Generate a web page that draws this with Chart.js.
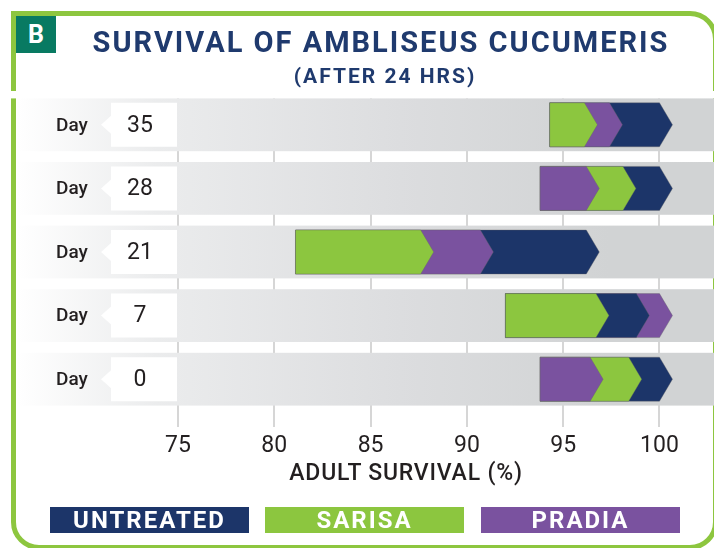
<!DOCTYPE html>
<html>
<head>
<meta charset="utf-8">
<script src="https://cdn.jsdelivr.net/npm/chart.js@4/dist/chart.umd.min.js"></script>
<style>
  body { margin: 0; background: #fff; }
  #page { position: relative; width: 714px; height: 548px; overflow: hidden; font-family: Roboto, sans-serif; }
  #frame { position: absolute; left: 11px; top: 11px; width: 707px; height: 539px; box-sizing: border-box;
           border: 5px solid #8dc63f; border-radius: 0 28px 28px 28px; }
  #badge { position: absolute; left: 16px; top: 16px; width: 40px; height: 37px; background: #087a62; color: #fff;
           font: 700 25px Roboto, sans-serif; line-height: 37px; text-align: center; }
  .title { position: absolute; left: 80px; width: 600px; text-align: center; color: #1f3a6e; font-weight: 700; }
  #t1 { top: 28px; font-size: 29px; line-height: 29px; letter-spacing: 2px; left: 81px; }
  #t2 { top: 66px; font-size: 21px; line-height: 21px; letter-spacing: 2px; left: 85px; }
  #axisTitle { position: absolute; left: 206px; width: 400px; top: 461px; text-align: center; font-size: 23px;
               font-weight: 500; letter-spacing: 0.8px; line-height: 24px; color: #231f20; }
  .legend { position: absolute; top: 507px; width: 199px; height: 26px; color: #fff; font: 700 24px Roboto, sans-serif;
            line-height: 27px; text-align: center; letter-spacing: 2px; }
  canvas { position: absolute; left: 0; top: 0; }
</style>
</head>
<body>
<div id="page">
  <div id="frame"></div>
  <canvas id="chart" width="714" height="548"></canvas>
  <div id="badge">B</div>
  <div class="title" id="t1">SURVIVAL OF AMBLISEUS CUCUMERIS</div>
  <div class="title" id="t2">(AFTER 24 HRS)</div>
  <div id="axisTitle">ADULT SURVIVAL (%)</div>
  <div class="legend" style="left:50px;background:#1c3569">UNTREATED</div>
  <div class="legend" style="left:265px;background:#8cc63f">SARISA</div>
  <div class="legend" style="left:481px;background:#7a529f">PRADIA</div>
</div>
<script>
// rows from top to bottom
const days = ["35", "28", "21", "7", "0"];
const startVals = [94.3, 93.8, 81.1, 92.0, 93.8];
const untreated = [100, 100, 96.2, 98.8, 100];
const sarisa = [96.1, 98.1, 87.6, 96.7, 98.4];
const pradia = [97.4, 96.2, 90.7, 100, 96.4];
const xTicks = [75, 80, 85, 90, 95, 100];

const navy = "#1c3569";
const green = "#8cc63f";
const purple = "#7a529f";

function range(vals) {
    return vals.map((v, i) => [startVals[i], v]);
}

// draws grey bands, day labels and the arrow-shaped bars (shortest on top)
const arrowPlugin = {
    id: "arrows",
    beforeDatasetsDraw(chart) {
        const ctx = chart.ctx;
        const y = chart.scales.y;
        const area = chart.chartArea;
        const slot = y.getPixelForValue(1) - y.getPixelForValue(0);
        const bandH = slot * 0.83;
        const tip = 13;

        ctx.save();
        // hide the bit of grid above the first band
        ctx.fillStyle = "#fff";
        ctx.fillRect(0, area.top - 2, chart.width, y.getPixelForValue(0) - bandH / 2 - area.top + 2);

        const g = ctx.createLinearGradient(17, 0, chart.width, 0);
        g.addColorStop(0, "#ffffff");
        g.addColorStop(0.2, "#ebeced");
        g.addColorStop(0.55, "#dcdddf");
        g.addColorStop(0.85, "#d1d3d4");
        g.addColorStop(1, "#d1d3d4");

        days.forEach((d, i) => {
            const c = y.getPixelForValue(i);
            ctx.fillStyle = g;
            ctx.fillRect(17, c - bandH / 2, chart.width - 17, bandH);

            // white label box with a notch
            ctx.fillStyle = "#fff";
            ctx.beginPath();
            ctx.moveTo(111, c - 22);
            ctx.lineTo(177, c - 22);
            ctx.lineTo(177, c + 22);
            ctx.lineTo(111, c + 22);
            ctx.lineTo(111, c + 9);
            ctx.lineTo(101, c);
            ctx.lineTo(111, c - 9);
            ctx.closePath();
            ctx.fill();

            ctx.fillStyle = "#231f20";
            ctx.textBaseline = "middle";
            ctx.textAlign = "left";
            ctx.font = "500 19px Roboto";
            ctx.fillText("Day", 56, c + 1);
            ctx.textAlign = "center";
            ctx.font = "400 23px Roboto";
            ctx.fillText(d, 140, c + 1);

            const bars = chart.data.datasets.map((ds, k) => ({
                el: chart.getDatasetMeta(k).data[i],
                color: ds.backgroundColor
            }));
            bars.sort((a, b) => b.el.x - a.el.x);
            bars.forEach(b => {
                const el = b.el;
                const h = el.height / 2;
                ctx.beginPath();
                ctx.moveTo(el.base, el.y - h);
                ctx.lineTo(el.x, el.y - h);
                ctx.lineTo(el.x + tip, el.y);
                ctx.lineTo(el.x, el.y + h);
                ctx.lineTo(el.base, el.y + h);
                ctx.closePath();
                ctx.fillStyle = b.color;
                ctx.fill();
                ctx.strokeStyle = "rgba(100,100,100,0.35)";
                ctx.lineWidth = 1;
                ctx.stroke();
            });
        });
        ctx.restore();
        return false;
    }
};

new Chart(document.getElementById("chart"), {
    type: "bar",
    data: {
        labels: days,
        datasets: [
            { label: "UNTREATED", data: range(untreated), backgroundColor: navy },
            { label: "SARISA", data: range(sarisa), backgroundColor: green },
            { label: "PRADIA", data: range(pradia), backgroundColor: purple }
        ]
    },
    options: {
        indexAxis: "y",
        responsive: false,
        animation: false,
        layout: { padding: { top: 93, left: 178, right: 0, bottom: 0 } },
        datasets: { bar: { grouped: false, barThickness: 44 } },
        plugins: { legend: { display: false }, tooltip: { enabled: false } },
        scales: {
            x: {
                min: 75,
                max: 102.83,
                afterFit(scale) { scale.height = 137; },
                afterBuildTicks(scale) { scale.ticks = xTicks.map(v => ({ value: v })); },
                border: { display: false },
                grid: { color: "#d6d6d6", lineWidth: 2, tickLength: 16 },
                ticks: { color: "#231f20", font: { family: "Roboto", size: 23 }, padding: 5 }
            },
            y: { display: false }
        }
    },
    plugins: [arrowPlugin]
});
</script>
</body>
</html>
